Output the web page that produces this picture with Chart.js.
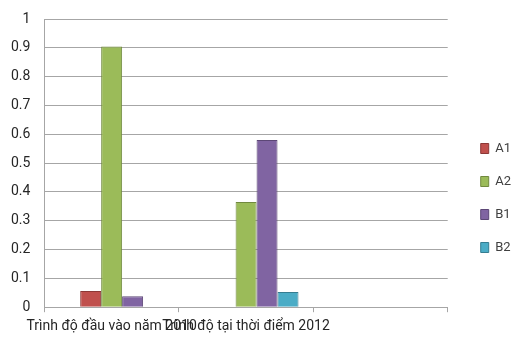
<!DOCTYPE html>
<html>
<head>
  <meta charset="utf-8">
  <script src="https://cdn.jsdelivr.net/npm/chart.js"></script>
  <title>Trình độ</title>
  <style>
    html, body { margin: 0; padding: 0; background: #fff; }
    #wrap { width: 512px; height: 341px; }
  </style>
</head>
<body>
  <div id="wrap">
    <canvas id="levelChart"></canvas>
  </div>

  <script>
    // categories (third slot is empty in the original sheet)
    const categories = ['Trình độ đầu vào năm 2010', 'Trình độ tại thời điểm 2012', ''];
    const seriesNames = ['A1', 'A2', 'B1', 'B2'];
    const a1 = [0.056, null, null];
    const a2 = [0.905, 0.365, null];
    const b1 = [0.038, 0.58, null];
    const b2 = [null, 0.053, null];
    const colors = ['#c0504d', '#9bbb59', '#8064a2', '#4bacc6'];
    const borders = ['#8c3836', '#71893f', '#5c4776', '#357d91'];

    const font = "Roboto, 'Liberation Sans', sans-serif";
    const yPad = 14;

    const values = [a1, a2, b1, b2];
    const datasets = [{
      // empty leading slot, keeps Excel's group offset to the right
      label: '',
      data: [null, null, null],
      backgroundColor: 'rgba(0,0,0,0)'
    }];
    seriesNames.forEach((name, i) => {
      datasets.push({
        label: name,
        data: values[i],
        backgroundColor: colors[i],
        borderColor: borders[i],
        borderWidth: 1,
        borderSkipped: 'bottom'
      });
    });

    // nudge the legend to where Excel put it
    const legendShift = {
      id: 'legendShift',
      afterLayout(chart) {
        const l = chart.legend;
        l.left += 13; l.right += 13;
        l.top += 18; l.bottom += 18;
      }
    };

    const ctx = document.getElementById('levelChart').getContext('2d');
    const chart = new Chart(ctx, {
      type: 'bar',
      data: { labels: categories, datasets: datasets },
      plugins: [legendShift],
      options: {
        responsive: true,
        maintainAspectRatio: false,
        animation: false,
        layout: { padding: { left: 11, right: 4, top: 19, bottom: 0 } },
        datasets: {
          bar: { barPercentage: 1, categoryPercentage: 0.78 }
        },
        plugins: {
          tooltip: { enabled: false },
          legend: {
            position: 'right',
            labels: {
              boxWidth: 8,
              boxHeight: 10,
              padding: 20,
              color: '#404040',
              font: { family: font, size: 13 },
              filter: item => item.text !== ''
            }
          }
        },
        scales: {
          x: {
            grid: { display: true, drawOnChartArea: false, tickLength: 5, color: '#a6a6a6' },
            border: { color: '#a6a6a6' },
            // long labels may run past the plot edges, as in Excel
            afterFit: s => { s.paddingLeft = 0; s.paddingRight = 0; },
            ticks: {
              autoSkip: false,
              maxRotation: 0,
              minRotation: 0,
              padding: 6,
              color: '#262626',
              font: { family: font, size: 14 }
            }
          },
          y: {
            min: 0,
            max: 1,
            grid: { color: '#a6a6a6', drawTicks: false },
            border: { color: '#a6a6a6' },
            afterFit: s => { s.width -= yPad; s.paddingTop = 0; s.paddingBottom = 0; },
            ticks: {
              stepSize: 0.1,
              padding: yPad,
              color: '#262626',
              font: { family: font, size: 14 },
              callback: v => Math.round(v * 10) / 10
            }
          }
        }
      }
    });
  </script>
</body>
</html>
